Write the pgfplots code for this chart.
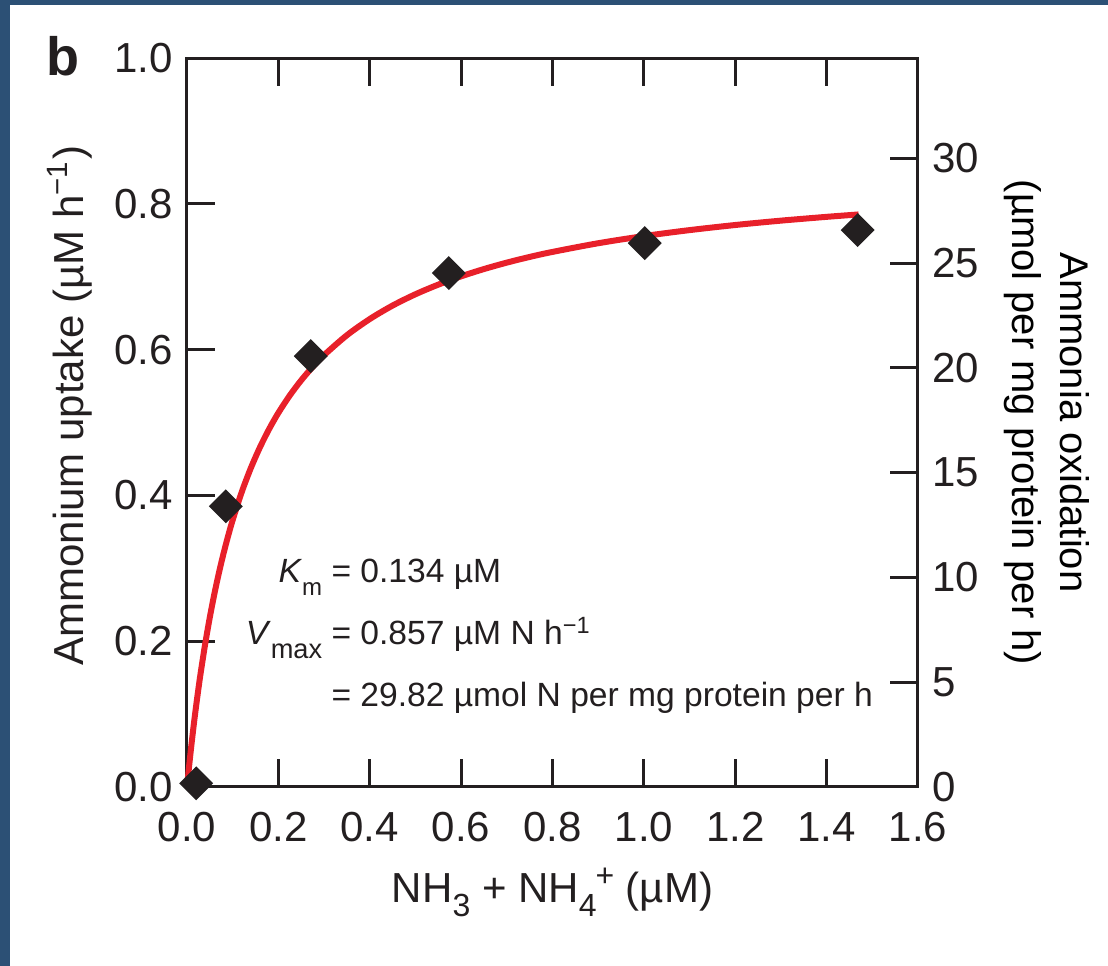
\documentclass[border=0pt]{standalone}
\usepackage{fontspec}
\setmainfont{Liberation Sans}
\usepackage{pgfplots}
\pgfplotsset{compat=1.18}
\definecolor{frameblue}{RGB}{44,80,117}
\definecolor{fitred}{RGB}{232,32,42}
\definecolor{ink}{RGB}{35,31,32}

% lowered subscripts and raised superscripts in label text
\newcommand{\lsub}[3]{\raisebox{-#2}{\fontsize{#3}{#3}\selectfont #1}}
\newcommand{\lsup}[3]{\raisebox{#2}{\fontsize{#3}{#3}\selectfont #1}}

\pgfplotsset{
  panel/.style={
    at={(46.75pt,44.75pt)}, anchor=south west,
    scale only axis, width=182.75pt, height=182.25pt,
    xmin=0, xmax=1.6,
    clip=false,
    tick align=inside, major tick length=7pt,
    axis line style={ink, line width=0.75pt},
    major tick style={ink, line width=0.75pt},
    tick label style={font=\fontsize{10.5}{12}\selectfont, text=ink},
    label style={font=\fontsize{10.5}{11.75}\selectfont, text=ink},
    /pgf/number format/assume math mode=true,
  }
}

\begin{document}
\begin{tikzpicture}
% frame and page
\fill[frameblue] (0pt,0pt) rectangle (277pt,241.5pt);
\fill[white] (2.5pt,0pt) rectangle (277pt,240.25pt);

% left scale: ammonium uptake
\begin{axis}[panel,
  ymin=0, ymax=1,
  xtick={0,0.2,0.4,0.6,0.8,1.0,1.2,1.4,1.6},
  ytick={0,0.2,0.4,0.6,0.8,1.0},
  xtick pos=both, ytick pos=left,
  xticklabel pos=lower,
  xticklabel style={yshift=-2.75pt,
    /pgf/number format/.cd, fixed, fixed zerofill, precision=1},
  yticklabel style={/pgf/number format/.cd, fixed, fixed zerofill, precision=1},
  xlabel={NH\lsub{3}{3.5pt}{8pt} + NH\lsub{4}{3.5pt}{8pt}\kern-0.3pt\lsup{+}{4pt}{8pt} (µM)},
  xlabel style={at={(axis description cs:0.5,-0.159)}, anchor=base},
  ylabel={Ammonium uptake (µM h\textsuperscript{−1})},
  ylabel style={at={(axis description cs:-0.142,0.523)}, anchor=base},
]
% measured uptake rates
\addplot[only marks, mark=square*, mark size=2.8pt,
  mark options={rotate=45, fill=ink, draw=ink}]
  coordinates {
    (0.02,0.005) (0.085,0.385) (0.271,0.591)
    (0.573,0.705) (1.002,0.746) (1.468,0.764)
  };
% Michaelis--Menten fit, Km = 0.134, Vmax = 0.857
\addplot[fitred, line width=1.5pt, smooth, no marks]
  coordinates {
    (0,0) (0.0025,0.0157) (0.005,0.0308) (0.0075,0.0454) (0.01,0.0595)
    (0.015,0.0863) (0.02,0.1113) (0.025,0.1347) (0.03,0.1568)
    (0.04,0.1970) (0.05,0.2329) (0.06,0.2651) (0.07,0.2941)
    (0.08,0.3204) (0.09,0.3443) (0.10,0.3662) (0.12,0.4049)
    (0.14,0.4379) (0.16,0.4664) (0.18,0.4913) (0.20,0.5132)
    (0.225,0.5371) (0.25,0.5579) (0.275,0.5762) (0.30,0.5924)
    (0.35,0.6197) (0.40,0.6419) (0.45,0.6604) (0.50,0.6759)
    (0.55,0.6891) (0.60,0.7005) (0.65,0.7105) (0.70,0.7193)
    (0.75,0.7271) (0.80,0.7340) (0.90,0.7459) (1.00,0.7557)
    (1.10,0.7639) (1.20,0.7709) (1.30,0.7769) (1.40,0.7821)
    (1.47,0.7854)
  };
\end{axis}

% right scale: ammonia oxidation per protein
\begin{axis}[panel,
  axis y line*=right, axis x line=none,
  ymin=0, ymax=34.796,
  ytick={0,5,10,15,20,25,30},
  every axis y label/.style={at={(axis description cs:1.176,0.5)},
    rotate=-90, anchor=center, align=center},
  ylabel={Ammonia oxidation\\(µmol per mg protein per h)},
]
\addplot[draw=none] coordinates {(0,0) (1.6,30)};
\end{axis}

\node[anchor=base west, inner sep=0pt, text=ink,
  font=\bfseries\fontsize{13.5}{14}\selectfont] at (11.5pt,222.5pt) {b};

\node[anchor=base west, inner sep=0pt, text=ink,
  font=\fontsize{8.4}{15.5}\selectfont] at (61.25pt,95.75pt)
  {\begin{tabular}[t]{@{}r@{}l@{}}
     \textit{K}\lsub{m}{3.2pt}{6pt} & ~= 0.134 µM\\
     \textit{V}\lsub{max}{3.4pt}{6.8pt} & ~= 0.857 µM N h\textsuperscript{−1}\\
      & ~= 29.82 µmol N per mg protein per h
   \end{tabular}};

\pgfresetboundingbox
\useasboundingbox (0pt,0pt) rectangle (277pt,241.5pt);
\end{tikzpicture}
\end{document}
